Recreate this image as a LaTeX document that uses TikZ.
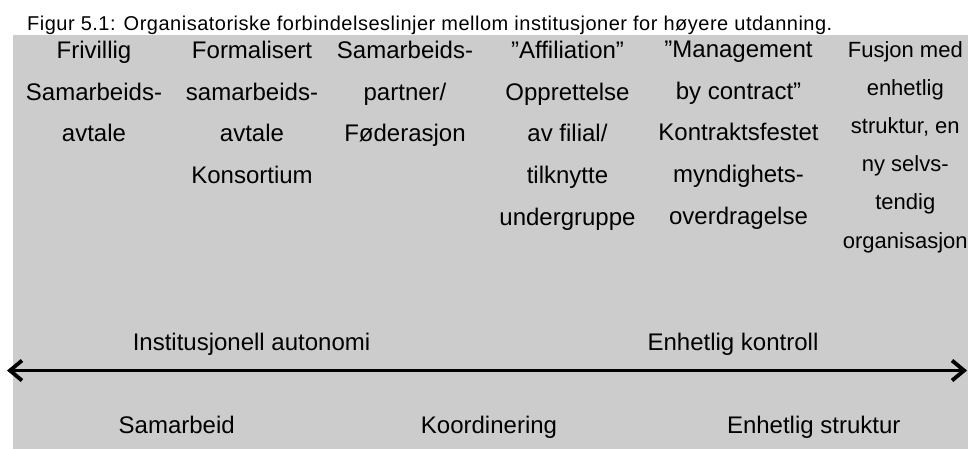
\documentclass[tikz,border=0pt]{standalone}
\usepackage{fontspec}
\setmainfont{Liberation Sans}
\newfontfamily\titlefont[LetterSpace=2.5]{Liberation Sans}
\usetikzlibrary{arrows.meta}
\definecolor{panelgray}{HTML}{CCCCCC}
\tikzset{
  col/.style={align=center, anchor=north, inner sep=0pt, font=\fontsize{24}{41.7}\selectfont},
  lastcol/.style={col, font=\fontsize{22}{38.2}\selectfont},
  lbl/.style={anchor=base, inner sep=0pt, font=\fontsize{24}{28}\selectfont}
}
\begin{document}
\begin{tikzpicture}[x=1pt,y=-1pt]
      \useasboundingbox (0,0) rectangle (968,449);
      \fill[panelgray] (13,35) rectangle (968,449);
      \node[anchor=base west, inner sep=0pt, font=\titlefont\fontsize{20}{23}\selectfont] (title) at (27,31)
        {Figur 5.1: Organisatoriske forbindelseslinjer mellom institusjoner for høyere utdanning.};
      \draw[draw=none]
        (94,40.8) node[col] (c1){Frivillig\\Samarbeids-\\avtale}
        (252,40.8) node[col] (c2){Formalisert\\samarbeids-\\avtale\\Konsortium}
        (405,40.8) node[col] (c3){Samarbeids-\\partner/\\Føderasjon}
        (567.5,40.8) node[col] (c4){”Affiliation”\\Opprettelse\\av filial/\\tilknytte\\undergruppe}
        (738.5,40.8) node[col] (c5){”Management\\by contract”\\Kontraktsfestet\\myndighets-\\overdragelse}
        (905.3,41) node[lastcol] (c6){Fusjon med\\enhetlig\\struktur, en\\ny selvs-\\tendig\\organisasjon};
      \draw[draw=none]
        (251.5,350.7) node[lbl] (autonomi){Institusjonell autonomi}
        (733,350.7) node[lbl] (kontroll){Enhetlig kontroll}
        (176.7,433) node[lbl] (samarbeid){Samarbeid}
        (489,433) node[lbl] (koord){Koordinering}
        (813.7,433) node[lbl] (struktur){Enhetlig struktur};
      \coordinate (venstre) at (7,370.5);
      \coordinate (hoyre) at (967,370.5);
      \begin{scope}[line width=3pt, {Straight Barb[length=12pt,width=20pt,line width=3.8pt]}-{Straight Barb[length=12pt,width=20pt,line width=3.8pt]}]
        \draw (venstre) to (hoyre);
      \end{scope}
    \end{tikzpicture}
\end{document}
